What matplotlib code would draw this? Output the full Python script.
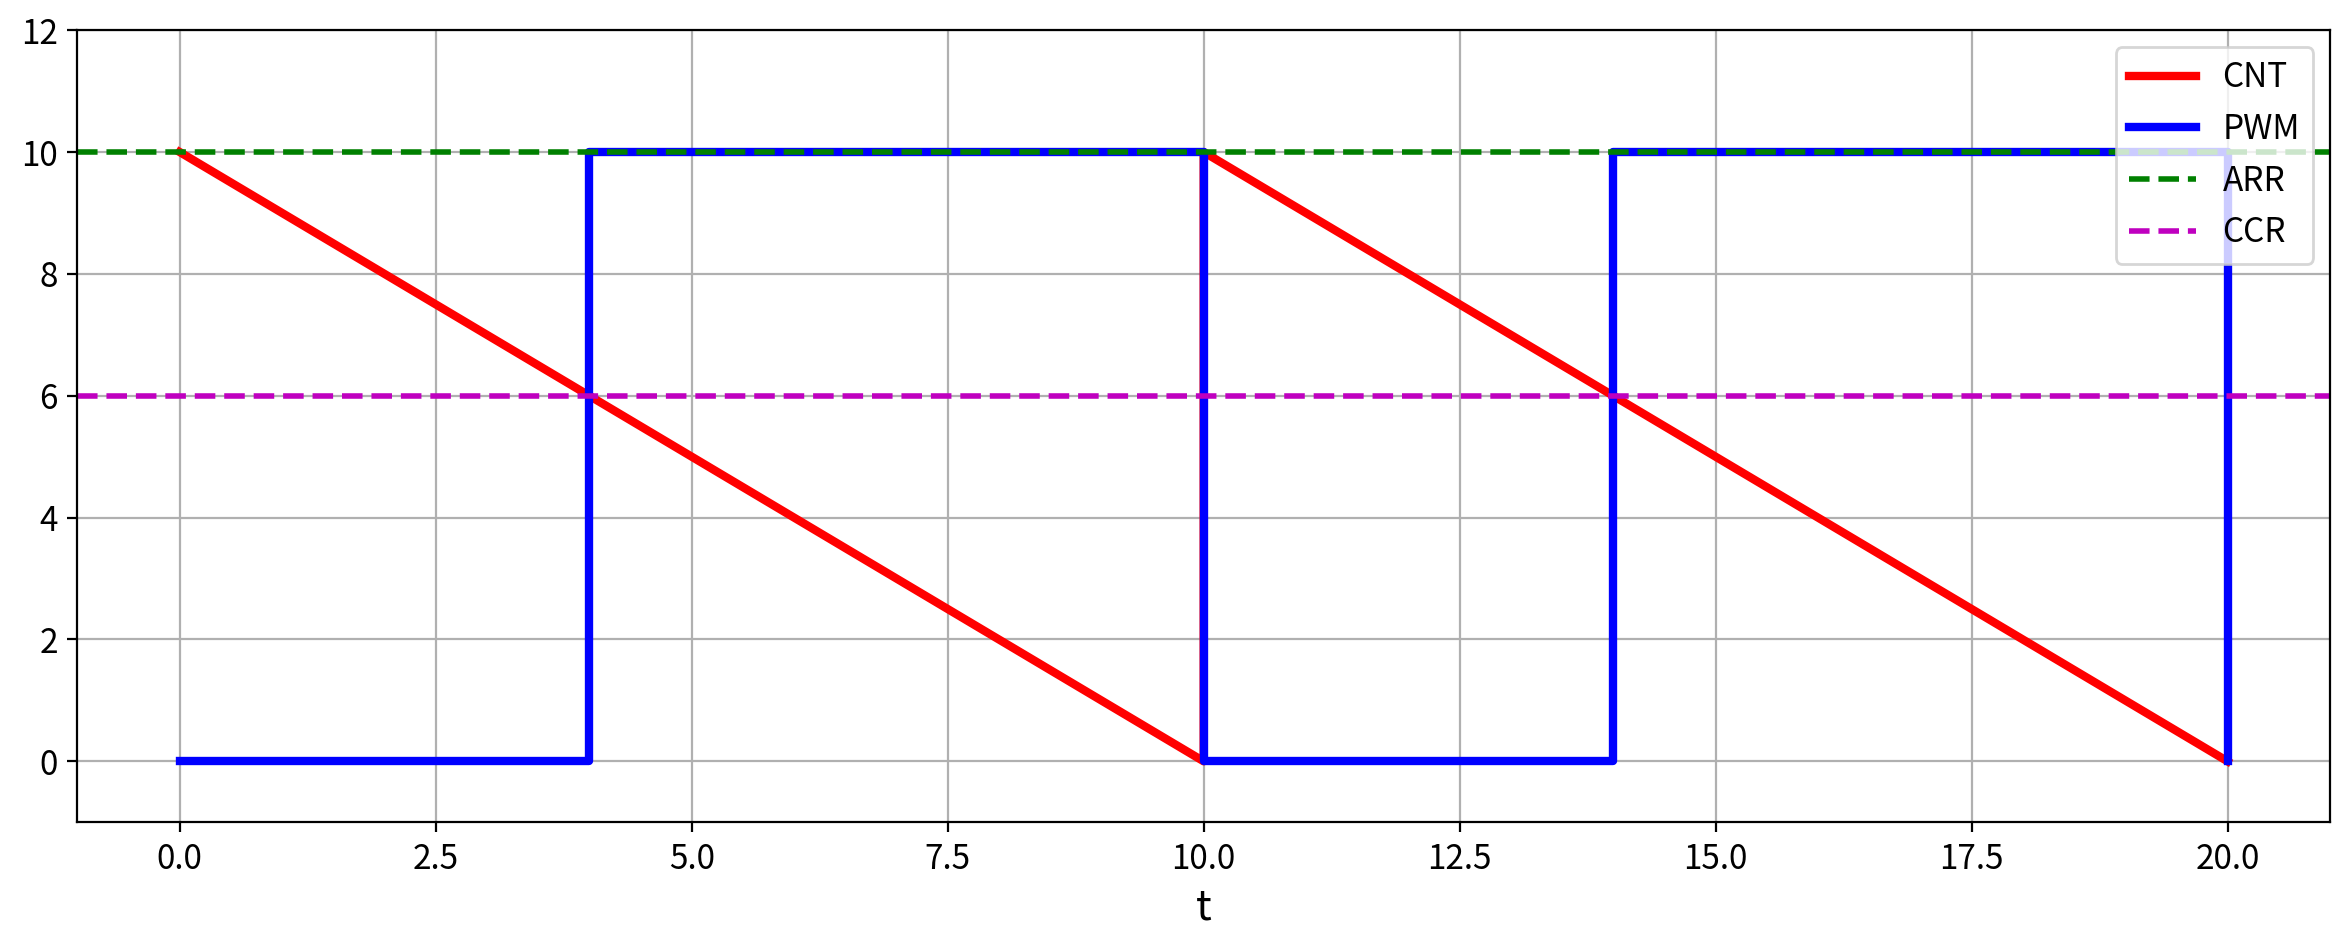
import matplotlib
matplotlib.use("Agg")
import matplotlib.pyplot as plt

plt.rcParams['font.family'] = ['Noto Sans CJK SC', 'DejaVu Sans']

cnt_t = [0, 10, 10, 20]
cnt_v = [10, 0, 10, 0]
pwm_t = [0, 4, 4, 10, 10, 14, 14, 20, 20]
pwm_v = [0, 0, 10, 10, 0, 0, 10, 10, 0]
arr = 10
ccr = 6

fig = plt.figure(figsize=(11.72, 4.72), dpi=200)
ax = fig.add_axes([0.033, 0.129, 0.961, 0.839])
ax.plot(cnt_t, cnt_v, color='red', lw=3, label='CNT')
ax.plot(pwm_t, pwm_v, color='blue', lw=3, label='PWM')
ax.axhline(arr, color='green', ls='--', lw=2, label='ARR')
ax.axhline(ccr, color='m', ls='--', lw=2, label='CCR')
ax.set_xlim(-1, 21)
ax.set_ylim(-1, 12)
ax.set_xticks([0, 2.5, 5, 7.5, 10, 12.5, 15, 17.5, 20])
ax.set_yticks([0, 2, 4, 6, 8, 10, 12])
ax.tick_params(labelsize=12)
ax.set_xlabel('t', fontsize=15)
ax.grid(True)
ax.legend(loc='upper right', fontsize=12)
fig.savefig('out.png')
